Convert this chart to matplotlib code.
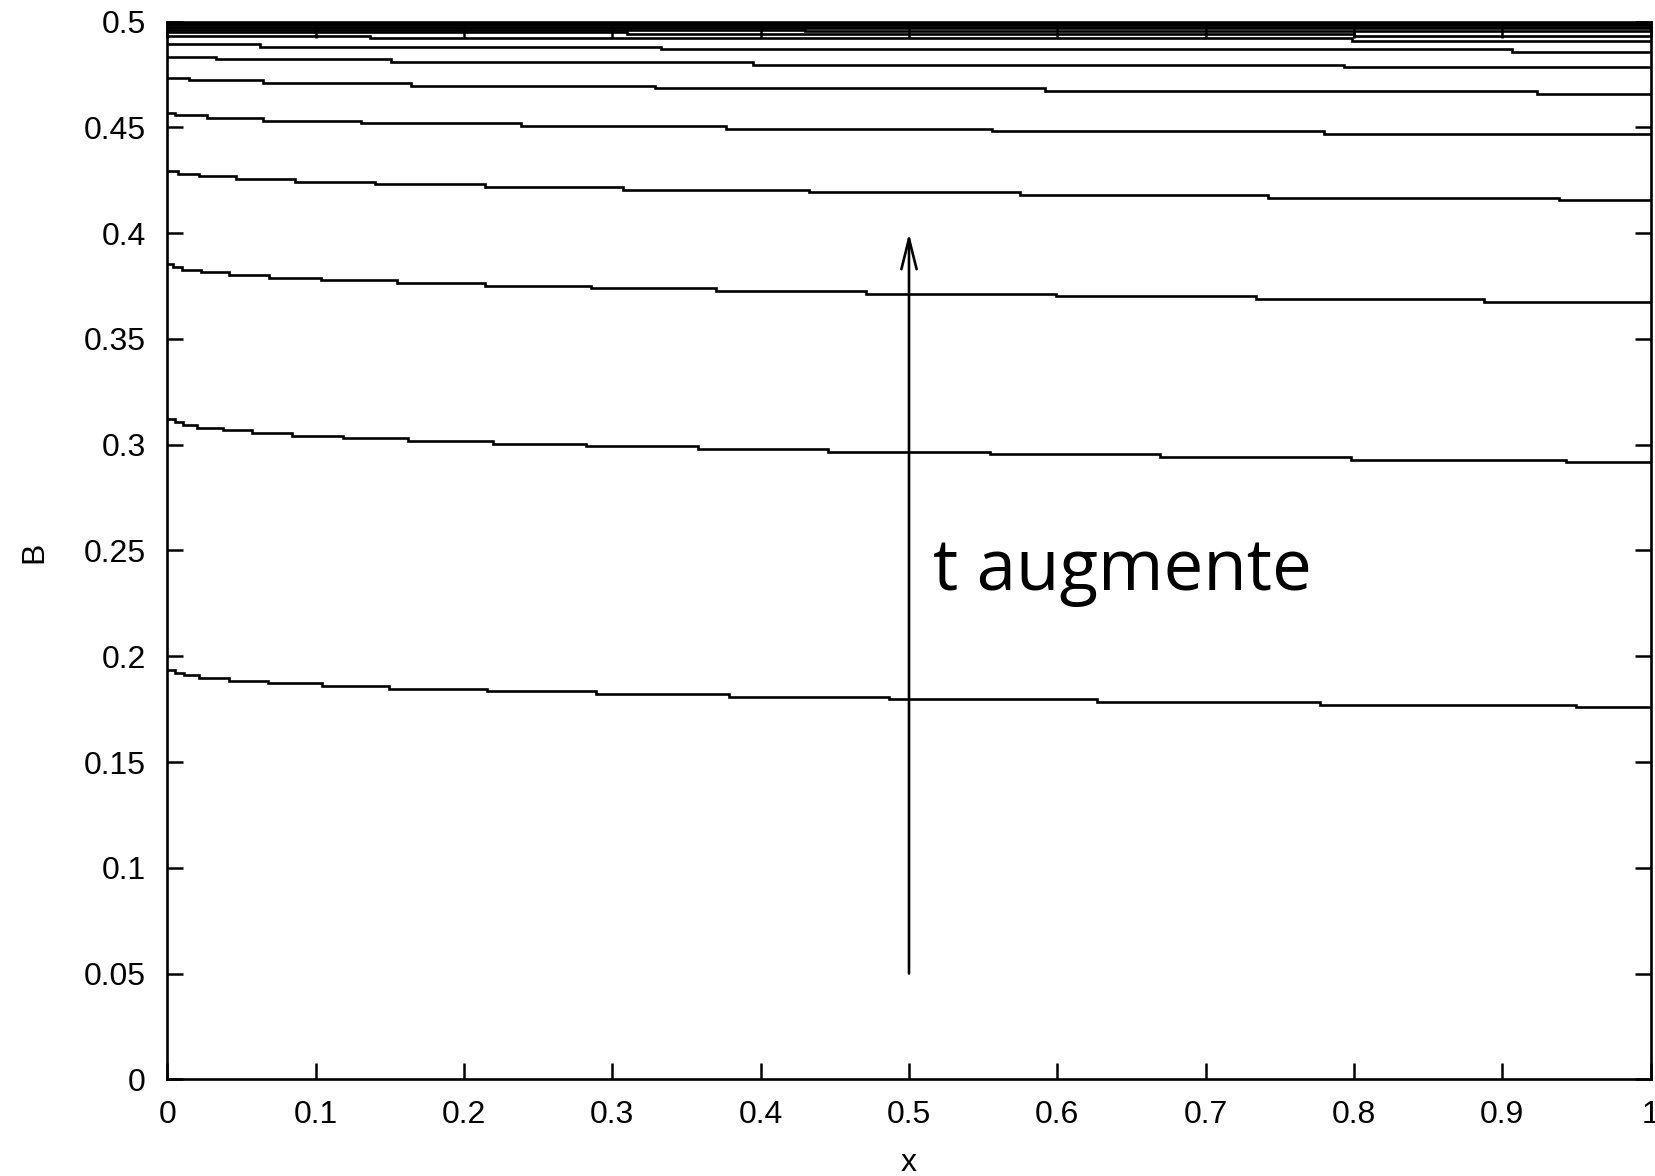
import matplotlib
matplotlib.use("Agg")
import matplotlib.pyplot as plt

# Profiles B(x) at successive times; each profile is a staircase:
# x positions where the value drops, and the level on each stretch.
steps_1 = [0.0052, 0.0113, 0.0216, 0.0416, 0.0681, 0.1041, 0.1497, 0.2153,
           0.2888, 0.3787, 0.4867, 0.6269, 0.7771, 0.9496]
levels_1 = [0.1935, 0.1922, 0.1910, 0.1897, 0.1884, 0.1872, 0.1859, 0.1847,
            0.1834, 0.1822, 0.1809, 0.1797, 0.1784, 0.1771, 0.1759]

steps_2 = [0.0052, 0.0108, 0.0198, 0.0373, 0.0573, 0.0843, 0.1186, 0.1621,
           0.2198, 0.2823, 0.3580, 0.4456, 0.5546, 0.6689, 0.7980, 0.9429]
levels_2 = [0.3120, 0.3106, 0.3093, 0.3081, 0.3068, 0.3056, 0.3043, 0.3030,
            0.3018, 0.3005, 0.2993, 0.2980, 0.2967, 0.2955, 0.2942, 0.2929,
            0.2917]

steps_3 = [0.0036, 0.0097, 0.0225, 0.0416, 0.0686, 0.1036, 0.1546, 0.2142,
           0.2854, 0.3699, 0.4708, 0.5991, 0.7339, 0.8878]
levels_3 = [0.3853, 0.3840, 0.3828, 0.3815, 0.3802, 0.3790, 0.3777, 0.3765,
            0.3752, 0.3740, 0.3727, 0.3714, 0.3702, 0.3689, 0.3676]

steps_4 = [0.0074, 0.0216, 0.0463, 0.0861, 0.1400, 0.2142, 0.3070, 0.4326,
           0.5748, 0.7422, 0.9382]
levels_4 = [0.4294, 0.4281, 0.4269, 0.4256, 0.4244, 0.4231, 0.4218, 0.4206,
            0.4193, 0.4181, 0.4168, 0.4156]

steps_5 = [0.0052, 0.0266, 0.0647, 0.1306, 0.2384, 0.3766, 0.5558, 0.7798]
levels_5 = [0.4570, 0.4557, 0.4545, 0.4532, 0.4520, 0.4507, 0.4494, 0.4482,
            0.4469]

steps_6 = [0.0146, 0.0643, 0.1641, 0.3288, 0.5917, 0.9232]
levels_6 = [0.4735, 0.4723, 0.4710, 0.4697, 0.4685, 0.4672, 0.4660]

steps_7 = [0.0326, 0.1506, 0.3950, 0.7935]
levels_7 = [0.4835, 0.4822, 0.4809, 0.4797, 0.4784]

steps_8 = [0.0625, 0.3328, 0.9067]
levels_8 = [0.4895, 0.4882, 0.4870, 0.4857]

steps_9 = [0.1366, 0.7985]
levels_9 = [0.4934, 0.4921, 0.4908]

steps_10 = [0.3100, 0.8000]
levels_10 = [0.4950, 0.4943, 0.4934]

steps_11 = [0.4300]
levels_11 = [0.4962, 0.4956]

steps_12 = []
levels_12 = [0.4969]

steps_13 = []
levels_13 = [0.4976]

steps_14 = []
levels_14 = [0.4983]

steps_15 = []
levels_15 = [0.4990]

steps_16 = []
levels_16 = [0.4997]

profiles = [
    (steps_1, levels_1), (steps_2, levels_2), (steps_3, levels_3),
    (steps_4, levels_4), (steps_5, levels_5), (steps_6, levels_6),
    (steps_7, levels_7), (steps_8, levels_8), (steps_9, levels_9),
    (steps_10, levels_10), (steps_11, levels_11), (steps_12, levels_12),
    (steps_13, levels_13), (steps_14, levels_14), (steps_15, levels_15),
    (steps_16, levels_16),
]

x_ticks = [0, 0.1, 0.2, 0.3, 0.4, 0.5, 0.6, 0.7, 0.8, 0.9, 1.0]
x_tick_labels = ["0", "0.1", "0.2", "0.3", "0.4", "0.5", "0.6", "0.7",
                 "0.8", "0.9", "1"]
y_ticks = [0, 0.05, 0.1, 0.15, 0.2, 0.25, 0.3, 0.35, 0.4, 0.45, 0.5]
y_tick_labels = ["0", "0.05", "0.1", "0.15", "0.2", "0.25", "0.3", "0.35",
                 "0.4", "0.45", "0.5"]

arrow_x = 0.5
arrow_from = 0.05
arrow_to = 0.40
note_text = "t augmente"
note_pos = (0.516, 0.2313)

plt.rcParams["font.family"] = ["Liberation Sans", "DejaVu Sans"]

fig = plt.figure(figsize=(16.55, 11.76), dpi=100)
ax = fig.add_axes([0.10109, 0.08223, 0.89631, 0.89932])

for steps, levels in profiles:
    edges = [0.0] + list(steps) + [1.0]
    ax.stairs(levels, edges, baseline=None, color="black", linewidth=1.9)

ax.set_xlim(0, 1)
ax.set_ylim(0, 0.5)
ax.set_xticks(x_ticks, labels=x_tick_labels)
ax.set_yticks(y_ticks, labels=y_tick_labels)
ax.tick_params(direction="in", length=11.5, width=1.8, top=True, right=True,
               labelsize=23, colors="black")
ax.tick_params(axis="x", pad=14.9)
ax.tick_params(axis="y", pad=15.5)
for spine in ax.spines.values():
    spine.set_linewidth(1.9)

ax.set_xlabel("x", fontsize=23)
ax.xaxis.label.set_va("baseline")
ax.xaxis.set_label_coords(0.5, -0.0867)
ax.set_ylabel("B", fontsize=23)
ax.yaxis.label.set_va("center")
ax.yaxis.set_label_coords(-0.0893, 0.4986)

ax.annotate("", xy=(arrow_x, arrow_to), xytext=(arrow_x, arrow_from),
            arrowprops=dict(arrowstyle="->,head_length=22,head_width=5.5",
                            mutation_scale=1, lw=1.9, color="black",
                            shrinkA=0, shrinkB=0))
ax.text(note_pos[0], note_pos[1], note_text, fontsize=51, fontweight=500,
        family=["Open Sans", "DejaVu Sans"], ha="left", va="baseline")

fig.savefig("out.png", dpi=100)
